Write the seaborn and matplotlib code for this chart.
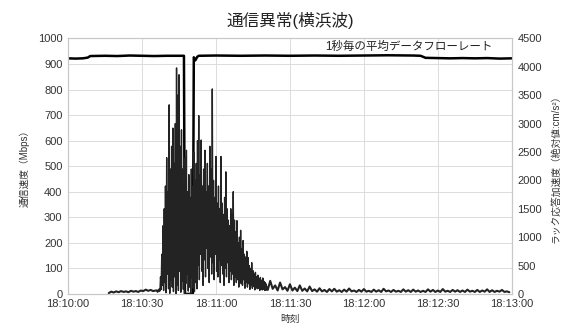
import numpy as np
import pandas as pd
import matplotlib
matplotlib.use("Agg")
import matplotlib.pyplot as plt
import seaborn as sns

# --- data (seconds after 18:10:00) ---
tick_seconds = [0, 30, 60, 90, 120, 150, 180]
tick_labels = ["18:10:00", "18:10:30", "18:11:00", "18:11:30",
               "18:12:00", "18:12:30", "18:13:00"]

# 1 s average data flow rate (Mbps)
rate_sec = [0, 3, 6, 8, 9, 15, 20, 25, 30, 35, 40, 44, 47.0, 47.4, 50.6, 51.0,
            51.6, 52.4, 53, 60, 70, 80, 90, 100, 110, 120, 130, 140, 143, 145,
            150, 155, 160, 165, 170, 175, 180]
rate_mbps = [922, 921, 922, 925, 931, 932, 931, 933, 932, 931, 932, 932, 932, 0,
             0, 926, 914, 928, 932, 933, 932, 933, 932, 933, 932, 933, 934, 933,
             932, 924, 923, 922, 923, 922, 923, 921, 922]

# rack response acceleration, |a| in cm/s^2
pre_start, pre_step = 16.5, 1.0
pre_accel = [15, 40, 25, 45, 30, 50, 35, 45, 30, 55,
             40, 50, 35, 60, 50, 75, 55, 70, 50, 60]

main_start, main_step = 36.0, 0.5
main_peaks = [60, 70, 90, 300, 700, 1200, 1500, 1900, 2400, 1800,
              3330, 2200, 2600, 2920, 2300, 3000, 3980, 3500, 3860, 2600,
              2890, 2200, 1900, 2400, 2530, 1800, 2100, 1700, 2200, 1900,
              2500, 2000, 2300, 2700, 3140, 2100, 2710, 1900, 2200, 2530,
              1800, 2300, 1900, 2600, 2200, 3610, 2000, 1700, 2420, 1600,
              1900, 1500, 2420, 1600, 1400, 1700, 2150, 1500, 1300, 1200,
              1500, 1400, 1800, 1300, 1100, 1290, 900, 1000, 1120, 800,
              940, 700, 650, 750, 640, 500, 450, 550, 410, 350,
              380, 300, 330, 260, 290, 240, 280, 220, 200]
main_troughs = [30, 40, 50, 80, 150, 60, 200, 20, 350, 90,
                10, 250, 120, 40, 300, 0, 150, 60, 400, 30,
                220, 80, 10, 180, 350, 50, 120, 20, 280, 100,
                40, 200, 90, 500, 250, 700, 400, 150, 600, 300,
                800, 450, 200, 650, 350, 550, 250, 700, 400, 300,
                600, 200, 500, 350, 150, 450, 300, 550, 200, 400,
                250, 350, 150, 300, 200, 250, 120, 200, 180, 150,
                250, 100, 200, 120, 180, 80, 150, 100, 130, 70,
                120, 90, 100, 60, 90, 70, 80, 60, 70]

tail_start, tail_step = 80.0, 2.0
tail_peaks = [180, 230, 150, 200, 120, 170, 110, 150, 95, 130,
              80, 100, 70, 85, 90, 65, 75, 95, 60, 70,
              85, 55, 75, 65, 90, 60, 70, 55, 80, 65,
              75, 60, 55, 80, 70, 60, 85, 55, 70, 65,
              60, 75, 55, 70, 60, 80, 65, 55, 70, 45]
tail_troughs = [70, 90, 60, 80, 55, 60, 50, 55, 45, 50,
                40, 45, 35, 45, 40, 35, 40, 45, 35, 40,
                40, 35, 40, 35, 45, 35, 40, 35, 40, 35,
                40, 35, 35, 40, 35, 35, 40, 35, 40, 35,
                35, 40, 35, 35, 40, 35, 35, 40, 35, 30]


def zigzag(start, step, peaks, troughs):
    t = start + step * np.arange(len(peaks))
    tt = np.column_stack([t, t + step / 2]).ravel()
    vv = np.column_stack([peaks, troughs]).ravel()
    return pd.DataFrame({"sec": tt, "accel": vv})


pre_df = pd.DataFrame({"sec": pre_start + pre_step * np.arange(len(pre_accel)),
                       "accel": pre_accel})
main_df = zigzag(main_start, main_step, main_peaks, main_troughs)
tail_df = zigzag(tail_start, tail_step, tail_peaks, tail_troughs)
# join the pieces so the trace is continuous
pre_df = pd.concat([pre_df, main_df.iloc[:1]])
tail_df = pd.concat([main_df.iloc[-1:], tail_df])
rate_df = pd.DataFrame({"sec": rate_sec, "rate": rate_mbps})

sns.set_theme(style="whitegrid")
plt.rcParams["font.family"] = ["Liberation Sans", "Noto Sans CJK JP"]

fig, ax = plt.subplots(figsize=(5.77, 3.34), dpi=100)
fig.subplots_adjust(left=0.118, right=0.887, top=0.885, bottom=0.12)
ax2 = ax.twinx()

sns.lineplot(data=rate_df, x="sec", y="rate", ax=ax, color="black",
             linewidth=1.8, estimator=None, sort=False)
trace = "#232323"
sns.lineplot(data=pre_df, x="sec", y="accel", ax=ax2, color=trace,
             linewidth=1.5, estimator=None, sort=False)
sns.lineplot(data=main_df, x="sec", y="accel", ax=ax2, color=trace,
             linewidth=1.0, estimator=None, sort=False)
sns.lineplot(data=tail_df, x="sec", y="accel", ax=ax2, color=trace,
             linewidth=1.5, estimator=None, sort=False)

ax.set_xlim(0, 180)
ax.set_ylim(0, 1000)
ax2.set_ylim(0, 4500)
ax.set_yticks(range(0, 1001, 100))
ax2.set_yticks(range(0, 4501, 500))
ax.set_xticks(tick_seconds)
ax.set_xticklabels(tick_labels)

ax.grid(True, color="#dcdcdc", linewidth=0.7)
ax2.grid(False)
for a in (ax, ax2):
    a.tick_params(length=0, labelsize=8, labelcolor="#333333", pad=4)
    for sp in a.spines.values():
        sp.set_color("#c8c8c8")
        sp.set_linewidth(0.8)

ax.set_xlabel("時刻", fontsize=7, color="#333333", labelpad=3)
ax.set_ylabel("通信速度（Mbps）", fontsize=7, color="#333333", labelpad=6)
ax2.set_ylabel("ラック応答加速度（絶対値:cm/s²）", fontsize=7, color="#333333",
               labelpad=6)
ax.set_title("通信異常(横浜波)", fontsize=12, color="#222222", pad=9)
ax.text(0.957, 0.967, "1秒毎の平均データフローレート", transform=ax.transAxes,
        ha="right", va="center", fontsize=8.3, color="#222222")

fig.savefig("out.png", dpi=100)
